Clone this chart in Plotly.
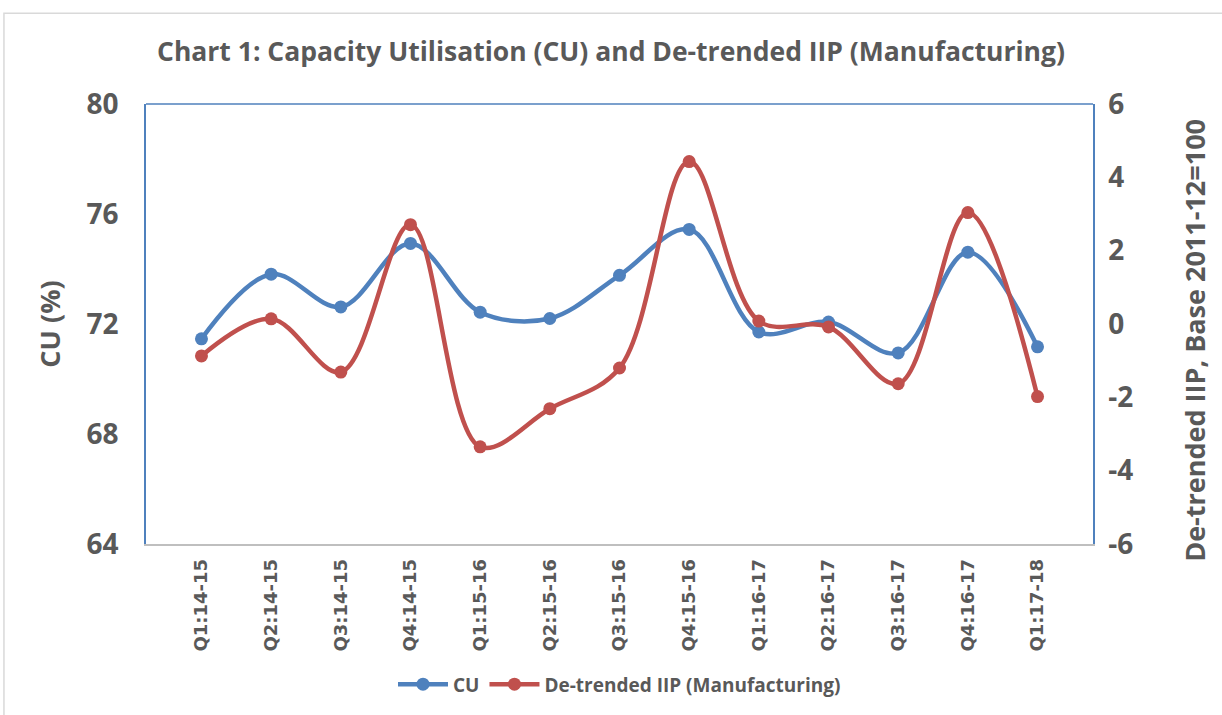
import plotly.graph_objects as go

quarters = ["Q1:14-15", "Q2:14-15", "Q3:14-15", "Q4:14-15", "Q1:15-16", "Q2:15-16",
            "Q3:15-16", "Q4:15-16", "Q1:16-17", "Q2:16-17", "Q3:16-17", "Q4:16-17", "Q1:17-18"]
cu = [71.46, 73.81, 72.62, 74.93, 72.43, 72.2, 73.77, 75.44, 71.71, 72.07, 70.95, 74.61, 71.17]
iip = [-0.87, 0.14, -1.31, 2.71, -3.35, -2.31, -1.2, 4.43, 0.08, -0.08, -1.63, 3.04, -1.98]

cu_ticks = [64, 68, 72, 76, 80]
iip_ticks = [-6, -4, -2, 0, 2, 4, 6]
iip_ticktext = ["-6", "-4", "-2", "0", "2", "4", "6"]

BLUE = "#4F81BD"
RED = "#C0504D"
GREY = "#595959"
FONT = "Open Sans"

fig = go.Figure()
fig.add_trace(go.Scatter(
    x=quarters, y=cu, name="CU", mode="lines+markers",
    line=dict(color=BLUE, width=4.5, shape="spline", smoothing=1.0),
    marker=dict(color=BLUE, size=13), yaxis="y"))
fig.add_trace(go.Scatter(
    x=quarters, y=iip, name="De-trended IIP (Manufacturing)", mode="lines+markers",
    line=dict(color=RED, width=4.5, shape="spline", smoothing=1.0),
    marker=dict(color=RED, size=13), yaxis="y2"))

fig.update_layout(
    width=1222, height=715,
    margin=dict(l=146, r=129, t=104, b=169),
    paper_bgcolor="white", plot_bgcolor="white",
    font=dict(family=FONT, color=GREY),
    title=dict(text="<b>Chart 1: Capacity Utilisation (CU) and De-trended IIP (Manufacturing)</b>",
               x=0.5, xanchor="center", y=0.927, yanchor="middle",
               font=dict(family=FONT, size=26.5, color=GREY)),
    xaxis=dict(type="category", tickangle=-90, showgrid=False, zeroline=False,
               showline=True, linecolor="#BFBFBF", linewidth=1.5, ticks="",
               tickfont=dict(family="DejaVu Sans", size=18, color=GREY, weight="bold"),
               ticklabelstandoff=6),
    yaxis=dict(range=[64, 80], tickvals=cu_ticks, showgrid=False, zeroline=False,
               showline=True, linecolor=BLUE, linewidth=1.5, ticks="",
               tickfont=dict(family=FONT, size=28, color=GREY, weight="bold"),
               ticklabelstandoff=20,
               title=dict(text="<b>CU (%)</b>", font=dict(family=FONT, size=27, color=GREY), standoff=18)),
    yaxis2=dict(range=[-6, 6], tickvals=iip_ticks, ticktext=iip_ticktext, overlaying="y",
                side="right", showgrid=False,
                zeroline=False, showline=True, linecolor=BLUE, linewidth=1.5, ticks="",
                tickfont=dict(family=FONT, size=28, color=GREY, weight="bold"),
                ticklabelstandoff=8),
    legend=dict(orientation="h", x=0.5, xanchor="center", y=-0.319, yanchor="middle",
                font=dict(family=FONT, size=19, color=GREY, weight="bold"),
                itemwidth=50, tracegroupgap=30),
    showlegend=True,
)

# right axis title (placed as annotation to match offset position)
fig.add_annotation(text="<b>De-trended IIP, Base 2011-12=100</b>", xref="paper", yref="paper",
                   x=1.1077, y=0.464, xanchor="center", yanchor="middle", textangle=-90,
                   showarrow=False, font=dict(family=FONT, size=27, color=GREY))

# top border of plot area
fig.add_shape(type="line", xref="paper", yref="paper", x0=0, x1=1, y0=1, y1=1,
              line=dict(color=BLUE, width=1.5))
# outer chart frame
fig.add_shape(type="rect", xref="paper", yref="paper", x0=-0.150, x1=1.15, y0=-0.40, y1=1.206,
              line=dict(color="#D9D9D9", width=1.5), layer="below")

fig.write_html("out.html", config={"displayModeBar": False},
               post_script="document.body.style.margin='0';")
